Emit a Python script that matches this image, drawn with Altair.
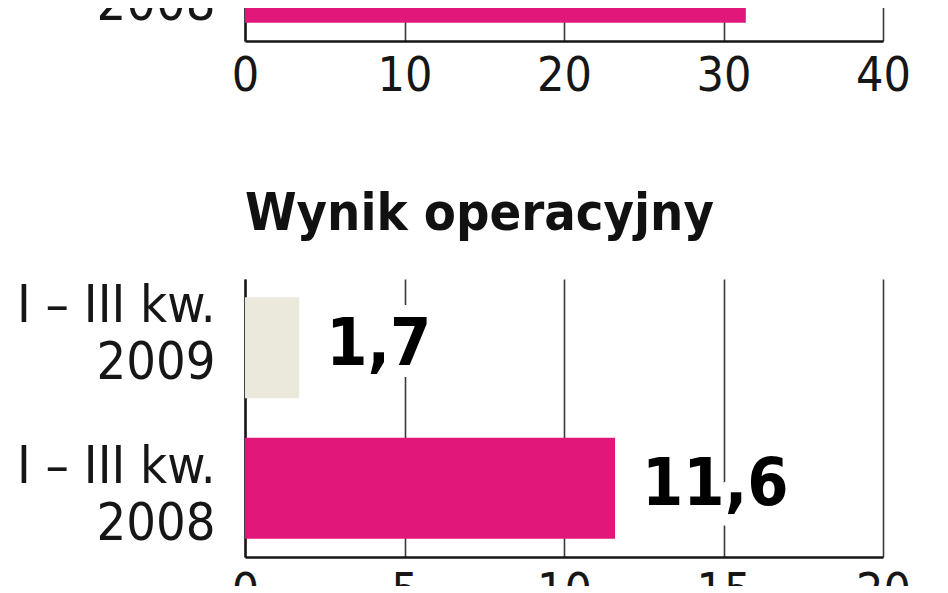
import altair as alt
import pandas as pd

# ---- data ----
periods = ["I – III kw. 2009", "I – III kw. 2008"]

top_periods = ["I – III kw. 2008"]      # only this bar of the upper panel is visible
top_values = [31.4]
top_labels = ["31,4"]
top_colors = ["#E1177A"]
top_ticks = [0, 10, 20, 30, 40]

op_title = "Wynik operacyjny"
op_periods = ["I – III kw. 2009", "I – III kw. 2008"]
op_values = [1.7, 11.6]
op_labels = ["1,7", "11,6"]
op_colors = ["#EAE9DC", "#E1177A"]
op_ticks = [0, 5, 10, 15, 20]

FONT = "DejaVu Sans Condensed, Liberation Sans, sans-serif"
INK = "#161616"

split_expr = ("[substring(datum.label, 0, lastindexof(datum.label, ' ')), "
              "substring(datum.label, lastindexof(datum.label, ' ') + 1)]")


def panel(df, ticks, off2009, off2008, title=None):
    x = alt.X(
        "value:Q",
        scale=alt.Scale(domain=[ticks[0], ticks[-1]], nice=False, zero=True),
        axis=alt.Axis(values=ticks, title=None, grid=True, ticks=False,
                      labelPadding=11, labelFontSize=48, labelFont=FONT,
                      labelColor=INK, labelFlush=False, format="d",
                      domainColor=INK, domainWidth=2.5,
                      gridColor="#3a3a3a", gridWidth=1.6),
    )
    y = alt.Y(
        "period:N",
        scale=alt.Scale(domain=periods, paddingInner=0.28, paddingOuter=0.13),
        axis=alt.Axis(title=None, ticks=False, labelPadding=30, labelLimit=0,
                      labelFontSize=52, labelFont=FONT, labelColor=INK,
                      labelLineHeight=57, labelExpr=split_expr,
                      labelOffset={"condition": {"test": "indexof(datum.value, '2009') >= 0",
                                                 "value": off2009},
                                   "value": off2008},
                      domainColor=INK, domainWidth=2.5),
    )
    base = alt.Chart(df)
    bars = base.mark_bar().encode(x=x, y=y, color=alt.Color("color:N", scale=None))
    halo = base.mark_text(align="left", baseline="middle", dx=27, dy=-3, font=FONT,
                          fontWeight="bold", fontSize=66, fill="white",
                          stroke="white", strokeWidth=24, strokeJoin="round").encode(
        x="value:Q", y="period:N", text="label:N")
    txt = base.mark_text(align="left", baseline="middle", dx=27, dy=-3, font=FONT,
                         fontWeight="bold", fontSize=66, color="#000000").encode(
        x="value:Q", y="period:N", text="label:N")
    ch = alt.layer(bars, halo, txt).properties(width=638, height=278)
    if title:
        ch = ch.properties(title=alt.TitleParams(
            title, anchor="start", frame="group", font=FONT, fontSize=52,
            fontWeight="bold", color="#111111", offset=38))
    return ch


top_df = pd.DataFrame({"period": top_periods, "value": top_values,
                       "label": top_labels, "color": top_colors})
op_df = pd.DataFrame({"period": op_periods, "value": op_values,
                      "label": op_labels, "color": op_colors})

chart = alt.vconcat(
    panel(top_df, top_ticks, -42, -25),
    panel(op_df, op_ticks, -42, -21, op_title),
    spacing=88,
).properties(
    padding={"top": -245, "left": 8, "right": 5, "bottom": -30},
    background="white",
).configure_view(stroke=None)

chart.save("out.html", embed_options={"renderer": "svg", "actions": False})
